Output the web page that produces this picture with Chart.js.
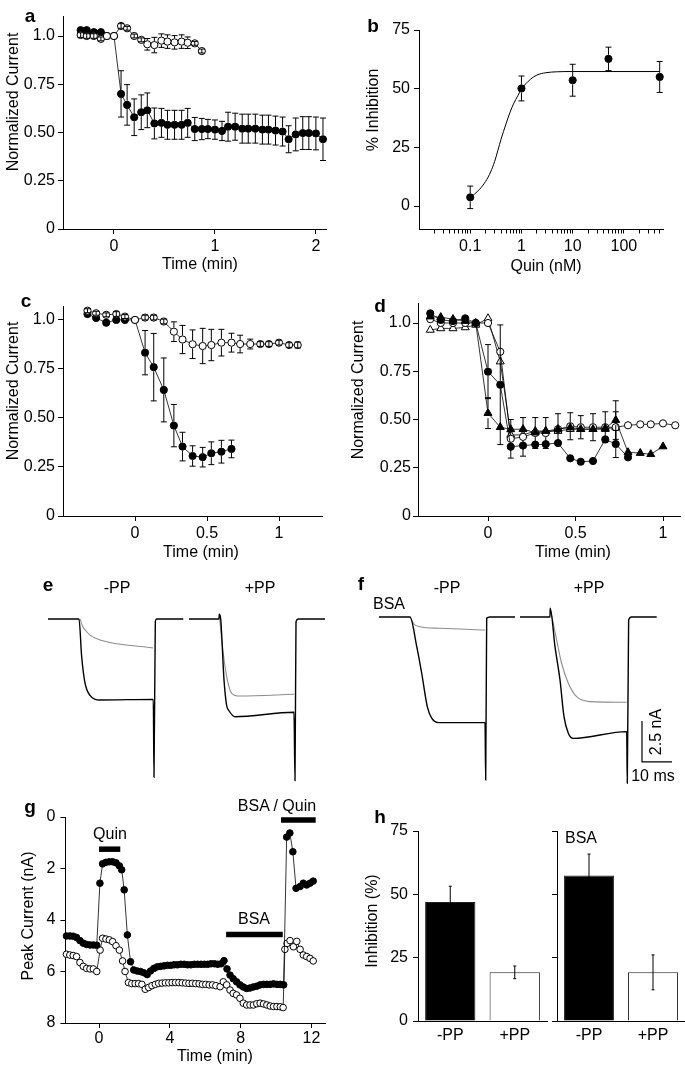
<!DOCTYPE html>
<html>
<head>
<meta charset="utf-8">
<script src="https://cdn.jsdelivr.net/npm/chart.js@4.4.1/dist/chart.umd.min.js"></script>
<style>
  body { margin: 0; background: #fff; }
  #fig { position: relative; width: 685px; height: 1070px; overflow: hidden; font-family: "Liberation Sans", Arial, sans-serif; color: #000; }
  #fig canvas { position: absolute; }
  .t { position: absolute; font-size: 16px; line-height: 1; white-space: nowrap; transform: translate(-50%, -50%); }
  .r { transform: translate(-50%, -50%) rotate(-90deg); }
  .p { font-weight: bold; font-size: 19px; }
</style>
</head>
<body>
<div id="fig"></div>
<script>
// ---------- panel a ----------
const aFilledT = [-0.33,-0.27,-0.2,-0.13,-0.07,0,0.07,0.13,0.2,0.27,0.33,0.4,0.47,0.53,0.6,0.67,0.73,0.8,0.87,0.93,1.0,1.07,1.13,1.2,1.27,1.33,1.4,1.47,1.53,1.6,1.67,1.73,1.8,1.87,1.93,2.0,2.07];
const aFilled = [1.03,1.03,1.02,1.02,1.0,1.0,0.70,0.643,0.579,0.605,0.615,0.547,0.55,0.54,0.54,0.54,0.55,0.518,0.518,0.518,0.515,0.508,0.53,0.53,0.52,0.52,0.52,0.515,0.515,0.51,0.505,0.465,0.49,0.497,0.497,0.495,0.465];
const aFilledErr = [0,0,0,0,0,0,0.12,0.105,0.095,0.09,0.09,0.08,0.075,0.075,0.075,0.075,0.075,0.06,0.055,0.05,0.05,0.05,0.075,0.07,0.075,0.075,0.075,0.075,0.075,0.075,0.075,0.07,0.085,0.085,0.085,0.085,0.11];
const aOpenT = [-0.33,-0.27,-0.2,-0.13,-0.07,0,0.07,0.13,0.2,0.27,0.33,0.4,0.47,0.53,0.6,0.67,0.73,0.8,0.87];
const aOpen = [1.005,1.0,1.0,0.985,1.0,1.0,1.052,1.04,1.0,0.98,0.957,0.953,0.976,0.971,0.967,0.971,0.965,0.962,0.922];
const aOpenErr = [0.012,0.012,0.012,0.01,0,0,0.012,0.01,0.01,0.01,0.03,0.04,0.035,0.035,0.035,0.035,0.03,0.01,0.01];
const aXTicks = [0, 1, 2], aXLabels = ['0', '1', '2'];
const normTicks = [0, 0.25, 0.5, 0.75, 1], normLabels = ['0', '0.25', '0.50', '0.75', '1.0'];

// ---------- panel b ----------
const bConc = [0.1, 1, 10, 50, 500];
const bInhib = [3.7, 50.1, 53.6, 62.7, 55];
const bErr = [4.8, 5.3, 6.8, 5, 6.6];
const bFitX = [0.1,0.15,0.2,0.25,0.3,0.4,0.5,0.6,0.7,0.85,1,1.5,2,3,5,10,500];
const bFitY = [3.5,7,10.5,14.5,19,28.5,35,40,43.5,47,49.8,54,55.8,56.8,57.2,57.3,57.3];
const bYTicks = [0, 25, 50, 75], bYLabels = ['0', '25', '50', '75'];
const bXMajor = [0.1, 1, 10, 100], bXMajorLabels = ['0.1', '1', '10', '100'];

// ---------- panel c ----------
const cFilledT = [-0.33,-0.27,-0.2,-0.13,-0.07,0,0.07,0.13,0.2,0.27,0.33,0.4,0.47,0.53,0.6,0.67];
const cFilled = [1.03,1.01,0.986,1.0,1.0,1.0,0.833,0.759,0.643,0.461,0.354,0.306,0.30,0.32,0.328,0.342];
const cFilledErr = [0,0,0,0,0,0,0.113,0.172,0.163,0.108,0.073,0.052,0.05,0.058,0.058,0.045];
const cOpenT = [-0.33,-0.27,-0.2,-0.13,-0.07,0,0.07,0.13,0.2,0.27,0.33,0.4,0.47,0.53,0.6,0.67,0.73,0.8,0.87,0.93,1.0,1.07,1.13];
const cOpen = [1.047,1.034,1.026,1.03,1.017,1.0,1.012,1.012,0.992,0.94,0.90,0.876,0.867,0.872,0.884,0.884,0.877,0.877,0.877,0.877,0.884,0.872,0.872];
const cOpenErr = [0.01,0.01,0.01,0.012,0.01,0,0.012,0.012,0.012,0.05,0.072,0.073,0.09,0.08,0.068,0.048,0.045,0.025,0.012,0.012,0.012,0.012,0.015];
const halfTicks = [0, 0.5, 1], halfLabels = ['0', '0.5', '1'];

// ---------- panel d ----------
const dFilledCircT = [-0.33,-0.27,-0.2,-0.13,-0.07,0,0.07,0.13,0.2,0.27,0.33,0.4,0.47,0.53,0.6,0.67,0.73,0.8];
const dFilledCirc = [1.05,1.016,1.01,1.024,1.0,0.748,0.68,0.359,0.365,0.37,0.372,0.378,0.299,0.281,0.285,0.397,0.373,0.304];
const dFilledCircErr = [0,0,0,0,0,0.14,0.31,0,0,0,0,0,0,0,0,0,0.07,0];
const dFilledTriT = [-0.33,-0.27,-0.2,-0.13,-0.07,0,0.07,0.13,0.2,0.27,0.33,0.4,0.47,0.53,0.6,0.67,0.73,0.8,0.87,0.93,1.0];
const dFilledTri = [1.033,1.03,1.02,1.01,1.0,0.533,0.46,0.449,0.45,0.432,0.44,0.45,0.458,0.45,0.45,0.455,0.497,0.33,0.326,0.32,0.36];
const dFilledTriErr = [0,0,0,0,0,0.08,0,0,0,0,0,0,0,0,0,0,0.1,0,0,0,0];
const dOpenCircT = [-0.33,-0.27,-0.2,-0.13,-0.07,0,0.07,0.13,0.2,0.27,0.33,0.4,0.47,0.53,0.6,0.67,0.73,0.8,0.87,0.93,1.0,1.07];
const dOpenCirc = [1.02,1.0,1.0,1.0,1.0,1.0,0.851,0.40,0.41,0.43,0.43,0.45,0.465,0.46,0.46,0.46,0.46,0.47,0.475,0.475,0.48,0.47];
const dOpenCircErr = [0,0,0,0,0,0,0,0.1,0.1,0.08,0.08,0.08,0.07,0.06,0.07,0.08,0.08,0,0,0,0,0];
const dOpenTriT = [-0.33,-0.27,-0.2,-0.13,-0.07,0,0.07,0.13,0.2,0.27,0.33,0.4,0.47,0.53,0.6,0.67,0.73];
const dOpenTri = [0.964,0.972,0.972,0.977,0.99,1.024,0.80,0.42,0.42,0.44,0.44,0.44,0.45,0.45,0.45,0.45,0.46];

// ---------- panels e, f (traces, ms / nA) ----------
const eMinusBlackT = [1, 11.33, 12.22, 13.33, 15, 18.33, 36.1, 36.33, 36.77, 37.23, 46.1];
const eMinusBlackI = [0, 0, -2.29, -3.9, -4.66, -4.94, -4.9, -9.65, -0.16, 0, 0];
const eMinusGreyT = [11.67, 12.67, 13.67, 15, 18.33, 36];
const eMinusGreyI = [0, -0.49, -0.73, -0.98, -1.28, -1.77];
const ePlusBlackT = [48, 58, 58.1, 58.57, 59.67, 60.57, 61.17, 63.33, 83, 83.33, 83.67, 84.43, 93.33];
const ePlusBlackI = [0, 0, 0.3, 0, -3.72, -5.3, -5.55, -5.96, -5.69, -9.86, -0.16, 0, 0];
const ePlusGreyT = [58.1, 58.9, 60.57, 62.23, 65, 83];
const ePlusGreyI = [0.3, -1.28, -3.52, -4.53, -4.7, -4.59];

const fMinusBlackT = [1.33, 11.67, 13.9, 15.57, 17.43, 18.9, 21.1, 36.67, 36.9, 37.23, 38.33, 46.67];
const fMinusBlackI = [0, 0, -1.79, -3.43, -5.46, -6.17, -6.44, -6.44, -9.94, -0.08, 0, 0];
const fMinusGreyT = [11.67, 13, 15, 21.67, 36.67];
const fMinusGreyI = [0, -0.43, -0.59, -0.69, -0.79];
const fPlusBlackT = [48.33, 58.33, 58.4, 60, 61.67, 63, 64.44, 66.1, 83.9, 84.1, 84.55, 85.55, 93.9];
const fPlusBlackI = [0, 0, 0.53, -1.81, -3.84, -6.08, -7.09, -7.4, -6.99, -10.14, -0.18, 0, 0];
const fPlusGreyT = [58.4, 60.55, 62.2, 64.44, 67.2, 71.67, 83.9];
const fPlusGreyI = [0.53, -1.4, -2.82, -4.04, -4.86, -5.16, -5.2];
const scaleBarT = [89, 89, 99];        // 10 ms
const scaleBarI = [-6.34, -8.84, -8.84]; // 2.5 nA

// ---------- panel g ----------
const gFilledT = [-1.84,-1.65,-1.46,-1.27,-1.08,-0.89,-0.70,-0.51,-0.32,-0.13,0.05,0.2,0.39,0.58,0.77,0.96,1.15,1.28,1.42,1.6,1.78,1.96,2.15,2.34,2.53,2.72,2.91,3.1,3.29,3.48,3.67,3.86,4.05,4.24,4.43,4.62,4.81,5.0,5.19,5.38,5.57,5.76,5.95,6.14,6.33,6.52,6.71,6.9,7.06,7.23,7.4,7.58,7.77,7.96,8.15,8.34,8.53,8.72,8.91,9.1,9.29,9.48,9.67,9.86,10.05,10.24,10.43,10.6,10.78,10.95,11.13,11.36,11.54,11.73,11.92,12.1];
const gFilled = [4.62,4.62,4.63,4.68,4.8,4.9,4.95,4.97,4.97,4.98,2.57,1.82,1.76,1.74,1.74,1.78,1.9,2.05,2.83,4.58,5.62,5.94,5.98,6.0,6.05,6.12,5.98,5.88,5.82,5.8,5.78,5.76,5.76,5.74,5.74,5.72,5.72,5.74,5.74,5.72,5.72,5.72,5.72,5.72,5.7,5.7,5.72,5.7,5.58,5.9,6.14,6.28,6.4,6.52,6.6,6.66,6.64,6.6,6.57,6.52,6.5,6.5,6.5,6.48,6.5,6.5,6.52,0.78,0.62,1.35,2.77,2.7,2.57,2.64,2.57,2.49];
const gOpenT = [-1.84,-1.65,-1.46,-1.27,-1.08,-0.89,-0.70,-0.51,-0.32,-0.13,0.06,0.2,0.39,0.58,0.77,0.96,1.15,1.33,1.47,1.66,1.85,2.04,2.23,2.42,2.61,2.8,2.99,3.18,3.37,3.56,3.75,3.94,4.13,4.32,4.51,4.7,4.89,5.08,5.27,5.46,5.65,5.84,6.03,6.22,6.41,6.6,6.84,7.02,7.21,7.4,7.58,7.77,7.96,8.15,8.34,8.53,8.72,8.91,9.1,9.29,9.48,9.67,9.86,10.05,10.24,10.4,10.5,10.62,10.79,10.98,11.17,11.36,11.54,11.73,11.92,12.1];
const gOpen = [5.33,5.36,5.38,5.42,5.65,5.8,5.88,5.9,5.9,6.0,5.17,4.71,4.74,4.77,4.84,5.0,5.17,5.59,6.0,6.43,6.47,6.47,6.47,6.5,6.69,6.62,6.55,6.5,6.46,6.45,6.44,6.44,6.43,6.43,6.43,6.44,6.45,6.46,6.46,6.47,6.48,6.5,6.5,6.52,6.52,6.55,6.59,6.4,6.52,6.72,6.85,6.91,7.04,7.23,7.3,7.3,7.3,7.25,7.23,7.26,7.3,7.34,7.36,7.36,7.37,7.4,5.14,4.91,4.8,5.04,4.83,5.14,5.36,5.42,5.49,5.59];
const gQuinBar = [0, 1.2], gQuinLevel = 1.25;
const gBsaBar = [7.18, 10.38], gBsaLevel = 4.56;
const gBsaQuinBar = [10.28, 12.24], gBsaQuinLevel = 0.12;
const gXTicks = [0, 4, 8, 12], gXLabels = ['0', '4', '8', '12'];
const gYTicks = [0, 2, 4, 6, 8], gYLabels = ['0', '2', '4', '6', '8'];

// ---------- panel h ----------
const hCats = ['-PP', '+PP'];
const hControl = [47, 19.2], hControlErr = [6.2, 2.5];
const hBsa = [57.4, 19.2], hBsaErr = [8.5, 6.9];
const hYTicks = [0, 25, 50, 75], hYLabels = ['0', '25', '50', '75'];

// ---------- setup ----------
Chart.defaults.font.family = '"Liberation Sans", Arial, sans-serif';
Chart.defaults.font.size = 16;
Chart.defaults.color = '#000';
Chart.defaults.animation = false;
Chart.defaults.events = [];
Chart.defaults.plugins.legend.display = false;
Chart.defaults.plugins.tooltip.enabled = false;

const fig = document.getElementById('fig');

// vertical error bars from dataset.errors
Chart.register({
  id: 'errorBars',
  afterDatasetsDraw(chart) {
    const ctx = chart.ctx;
    chart.data.datasets.forEach((ds, di) => {
      if (!ds.errors) return;
      const meta = chart.getDatasetMeta(di);
      const ys = chart.scales[meta.yAxisID];
      const gap = ds.pointRadius ? ds.pointRadius + 0.5 : 0;
      const cap = ds.capWidth || 3;
      ctx.save();
      ctx.strokeStyle = '#000';
      ctx.lineWidth = 1;
      meta.data.forEach((el, i) => {
        const e = ds.errors[i];
        if (!e) return;
        const v = meta.controller.getParsed(i).y;
        const px = el.x, py = el.y;
        const top = ys.getPixelForValue(v + e), bot = ys.getPixelForValue(v - e);
        ctx.beginPath();
        if (gap && py - top > gap) {
          ctx.moveTo(px, py - gap); ctx.lineTo(px, top);
          ctx.moveTo(px, py + gap); ctx.lineTo(px, bot);
        } else {
          ctx.moveTo(px, top); ctx.lineTo(px, bot);
        }
        ctx.moveTo(px - cap, top); ctx.lineTo(px + cap, top);
        ctx.moveTo(px - cap, bot); ctx.lineTo(px + cap, bot);
        ctx.stroke();
      });
      ctx.restore();
    });
  }
});

function series(xs, ys, o) {
  return Object.assign({
    data: xs.map((x, i) => ({x, y: ys[i]})),
    showLine: true, borderColor: '#000', borderWidth: 0.8,
    pointRadius: 3.6, pointBorderWidth: 1, pointBorderColor: '#000',
    pointBackgroundColor: '#000', clip: false
  }, o);
}
const open = {pointBackgroundColor: '#fff'};
function trace(xs, ys, color) {
  return series(xs, ys, {pointRadius: 0, borderColor: color, borderWidth: color === '#000' ? 1.4 : 1.1, cubicInterpolationMode: 'monotone'});
}

function axis(min, max, ticks, labels, o, pad) {
  return Object.assign({
    type: 'linear', min, max,
    afterBuildTicks: s => { s.ticks = ticks.map(v => ({value: v})); },
    ticks: {callback: (v, i) => labels[i], padding: pad === undefined ? 3 : pad, autoSkip: false, maxRotation: 0},
    grid: {drawOnChartArea: false, color: '#000', tickLength: 5},
    border: {color: '#000', width: 1}
  }, o);
}

function makeChart(box, area, type, data, scales) {
  const [bx, by, bw, bh] = box;
  const [l, t, r, b] = area;
  const cv = document.createElement('canvas');
  cv.width = bw; cv.height = bh;
  Object.assign(cv.style, {left: bx + 'px', top: by + 'px', width: bw + 'px', height: bh + 'px'});
  fig.appendChild(cv);
  const yW = l - bx, xH = by + bh - b;
  const pad = {left: 0, top: t - by, right: bx + bw - r, bottom: 0};
  if (scales.y.display === false) pad.left = yW; else scales.y.afterFit = s => { s.width = yW; };
  if (scales.x.display === false) pad.bottom = xH; else scales.x.afterFit = s => { s.height = xH; };
  return new Chart(cv, {
    type, data,
    options: {responsive: false, maintainAspectRatio: false, layout: {autoPadding: false, padding: pad}, scales}
  });
}

// a
makeChart([0, 0, 340, 275], [63, 16.7, 326, 229], 'scatter', {datasets: [
  series(aOpenT, aOpen, Object.assign({errors: aOpenErr}, open)),
  series(aFilledT, aFilled, {errors: aFilledErr})
]}, {
  x: axis(-0.505, 2.1, aXTicks, aXLabels),
  y: axis(0, 1.1, normTicks, normLabels)
});

// b
const bMinor = [0.01, 0.1, 1, 10, 100].flatMap(d => [2, 3, 4, 5, 6, 7, 8, 9].map(m => m * d)).filter(v => v < 580);
const bXAll = bXMajor.concat(bMinor);
const bXAllLabels = bXAll.map(v => { const k = bXMajor.indexOf(v); return k >= 0 ? bXMajorLabels[k] : ''; });
makeChart([340, 0, 345, 275], [419, 30, 663, 229.5], 'scatter', {datasets: [
  series(bConc, bInhib, {showLine: false, errors: bErr}),
  series(bFitX, bFitY, {pointRadius: 0, borderWidth: 1, cubicInterpolationMode: 'monotone'})
]}, {
  x: axis(0.01, 580, bXAll, bXAllLabels, {type: 'logarithmic', grid: {drawOnChartArea: false, color: '#000', tickLength: 4}}),
  y: axis(-10, 75, bYTicks, bYLabels, {}, 4)
});

// c
makeChart([0, 275, 340, 295], [63, 306, 322.2, 516], 'scatter', {datasets: [
  series(cOpenT, cOpen, Object.assign({errors: cOpenErr}, open)),
  series(cFilledT, cFilled, {errors: cFilledErr})
]}, {
  x: axis(-0.5, 1.3, halfTicks, halfLabels),
  y: axis(0, 1.071, normTicks, normLabels)
});

// d
makeChart([340, 275, 345, 295], [418, 303.7, 680.5, 516], 'scatter', {datasets: [
  series(dFilledTriT, dFilledTri, {pointStyle: 'triangle', pointRadius: 4.6, errors: dFilledTriErr}),
  series(dFilledCircT, dFilledCirc, {errors: dFilledCircErr}),
  series(dOpenCircT, dOpenCirc, Object.assign({errors: dOpenCircErr}, open)),
  series(dOpenTriT, dOpenTri, Object.assign({pointStyle: 'triangle', pointRadius: 4.6}, open))
]}, {
  x: axis(-0.4, 1.1, halfTicks, halfLabels),
  y: axis(0, 1.1, normTicks, normLabels, {}, 2)
});

// e
makeChart([0, 560, 340, 240], [45, 600, 330, 790], 'scatter', {datasets: [
  trace(eMinusBlackT, eMinusBlackI, '#000'),
  trace(ePlusBlackT, ePlusBlackI, '#000'),
  trace(eMinusGreyT, eMinusGreyI, '#8c8c8c'),
  trace(ePlusGreyT, ePlusGreyI, '#8c8c8c')
]}, {
  x: {type: 'linear', display: false, min: 0, max: 95},
  y: {type: 'linear', display: false, min: -10.43, max: 1.16}
});

// f
makeChart([340, 560, 345, 240], [375, 600, 680, 790], 'scatter', {datasets: [
  trace(fMinusBlackT, fMinusBlackI, '#000'),
  trace(fPlusBlackT, fPlusBlackI, '#000'),
  trace(fMinusGreyT, fMinusGreyI, '#8c8c8c'),
  trace(fPlusGreyT, fPlusGreyI, '#8c8c8c'),
  series(scaleBarT, scaleBarI, {pointRadius: 0, borderWidth: 1.2})
]}, {
  x: {type: 'linear', display: false, min: 0, max: 101.67},
  y: {type: 'linear', display: false, min: -10.55, max: 1.037}
});

// g
const bar = (xs, lvl) => series(xs, [lvl, lvl], {pointRadius: 0, borderWidth: 5.5, borderCapStyle: 'butt'});
makeChart([0, 790, 340, 280], [65.4, 817, 325.6, 1023], 'scatter', {datasets: [
  series(gFilledT, gFilled, {pointRadius: 3.3}),
  series(gOpenT, gOpen, Object.assign({pointRadius: 3.3}, open)),
  bar(gQuinBar, gQuinLevel),
  bar(gBsaBar, gBsaLevel),
  bar(gBsaQuinBar, gBsaQuinLevel)
]}, {
  x: axis(-1.9, 12.8, gXTicks, gXLabels, {}, 1),
  y: axis(0, 8, gYTicks, gYLabels, {reverse: true}, 5)
});

// h
function hChart(box, area, vals, errs, labels) {
  makeChart(box, area, 'bar', {labels: hCats, datasets: [{
    data: vals, errors: errs, capWidth: 1.5,
    backgroundColor: ['#000', '#fff'], borderColor: '#222', borderWidth: 1,
    barPercentage: 0.78, categoryPercentage: 1
  }]}, {
    x: {type: 'category', ticks: {padding: 5}, grid: {drawOnChartArea: false, drawTicks: false}, border: {color: '#000', width: 1}},
    y: axis(0, 75, hYTicks, labels, {}, 5)
  });
}
hChart([340, 790, 210, 280], [418, 831, 547, 1021], hControl, hControlErr, hYLabels);
hChart([550, 790, 135, 280], [557, 831, 685, 1021], hBsa, hBsaErr, hYLabels.map(() => ''));

// ---------- text ----------
const texts = [
  ['a', 30, 15, 'p'], ['b', 373, 25, 'p'], ['c', 26, 300, 'p'], ['d', 380, 305, 'p'],
  ['e', 48, 584, 'p'], ['f', 361, 583, 'p'], ['g', 30, 806, 'p'], ['h', 380, 816, 'p'],
  ['Normalized Current', 13, 102, 'r'], ['Time (min)', 200, 264],
  ['% Inhibition', 373, 110, 'r'], ['Quin (nM)', 546, 266],
  ['Normalized Current', 13, 391, 'r'], ['Time (min)', 201, 552],
  ['Normalized Current', 358, 390, 'r'], ['Time (min)', 573, 552],
  ['-PP', 117, 588], ['+PP', 260, 588], ['-PP', 447, 588], ['+PP', 589, 588], ['BSA', 389, 604],
  ['2.5 nA', 656, 732, 'r'], ['10 ms', 653, 776],
  ['Peak Current (nA)', 28, 916, 'r'], ['Time (min)', 215, 1056],
  ['Quin', 110, 834], ['BSA', 254, 919], ['BSA / Quin', 277, 806],
  ['Inhibition (%)', 372, 921, 'r'], ['BSA', 581, 838]
];
texts.forEach(([s, x, y, cls]) => {
  const d = document.createElement('div');
  d.className = 't' + (cls ? ' ' + cls : '');
  d.textContent = s;
  d.style.left = x + 'px';
  d.style.top = y + 'px';
  fig.appendChild(d);
});
</script>
</body>
</html>
